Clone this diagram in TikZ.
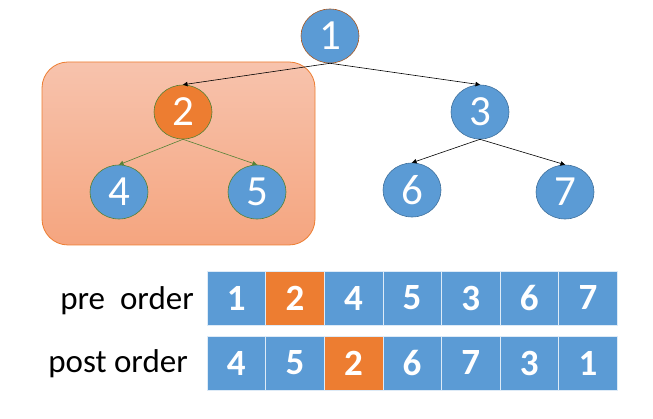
\documentclass[tikz,border=0pt]{standalone}
\usepackage{fontspec}
\setmainfont{Carlito}
\usetikzlibrary{arrows.meta,shapes.geometric}
\definecolor{nblue}{HTML}{5B9BD5}
\definecolor{norange}{HTML}{ED7D31}
\definecolor{bblue}{HTML}{41719C}
\definecolor{ngreen}{HTML}{548235}
\definecolor{boxtop}{HTML}{F7C3AD}
\definecolor{boxbot}{HTML}{F5A57F}
\begin{document}
\begin{tikzpicture}[x=1pt,y=-1pt,
  tnode/.style={ellipse,minimum width=58pt,minimum height=54pt,inner sep=0pt,fill=nblue,draw=bblue,line width=0.6pt,text=white,font=\fontsize{43}{43}\selectfont},
  arr/.style={-{Triangle[length=4.5pt,width=4.5pt]},line width=0.6pt},
  cell/.style={rectangle,minimum width=58.6pt,minimum height=54pt,inner sep=0pt,fill=nblue,draw=white!80!nblue,line width=0.6pt,text=white,font=\fontsize{37}{37}\selectfont\bfseries},
  lbl/.style={anchor=base east,font=\fontsize{33}{33}\selectfont,inner sep=0pt}]
\useasboundingbox (0,0) rectangle (653,419);
\node[draw=norange,line width=0.8pt,rounded corners=26pt,top color=boxtop,bottom color=boxbot,minimum width=273pt,minimum height=183pt,inner sep=0pt] (box) at (178.5,153.5) {};
\node[tnode,draw=norange!70!black] (n1) at (330,36) {1};
\node[tnode,fill=norange,draw=ngreen] (n2) at (183,112) {2};
\node[tnode] (n3) at (480,112) {3};
\node[tnode,draw=ngreen] (n4) at (119,192) {4};
\node[tnode,draw=ngreen] (n5) at (257,192) {5};
\node[tnode] (n6) at (412,190) {6};
\node[tnode] (n7) at (565,192) {7};
\draw[arr] (n1.south) -- (n2.north);
\draw[arr] (n1.south) -- (n3.north);
\draw[arr,ngreen] (n2.south) -- (n4.north);
\draw[arr,ngreen] (n2.south) -- (n5.north);
\draw[arr] (n3.south) -- (n6.north);
\draw[arr] (n3.south) -- (n7.north);
\node[lbl] (lpre) at (194,310) {pre\ \ order};
\node[lbl] (lpost) at (188,372) {post order};
\foreach \v [count=\i] in {1,2,4,5,3,6,7} {
  \node[cell] (p\i) at ({207+29.3+(\i-1)*58.6},298) {\v};
}
\foreach \v [count=\i] in {4,5,2,6,7,3,1} {
  \node[cell] (q\i) at ({207+29.3+(\i-1)*58.6},363) {\v};
}
\node[cell,fill=norange] at (p2) {2};
\node[cell,fill=norange] at (q3) {2};
\end{tikzpicture}
\end{document}
